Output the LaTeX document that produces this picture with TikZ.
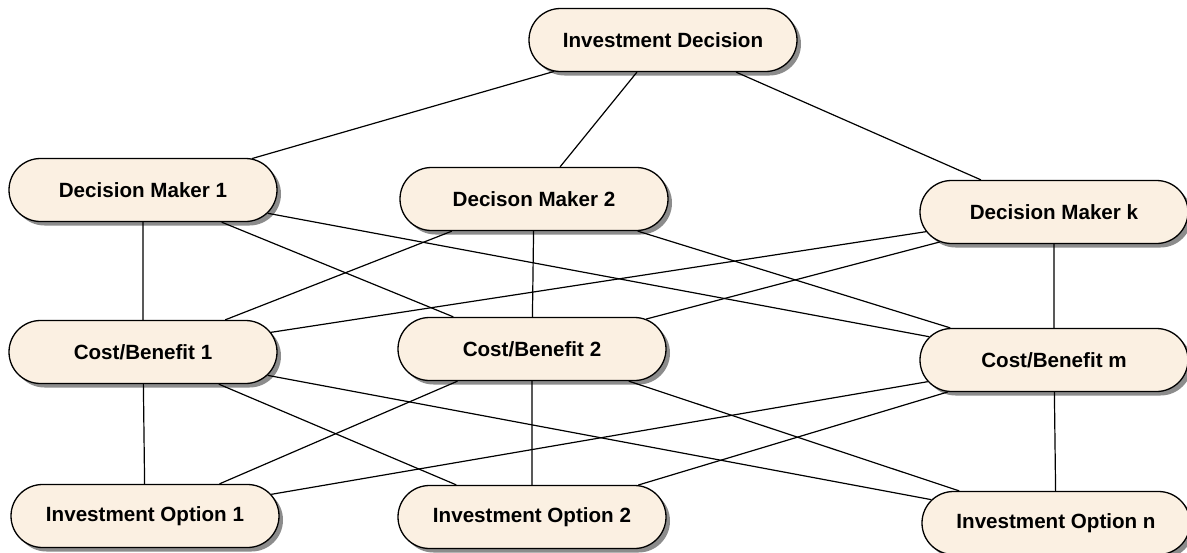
\documentclass[tikz,border=0pt]{standalone}
\usepackage{fontspec}
\setmainfont{Liberation Sans}
\usetikzlibrary{shapes.misc,shadows}
\definecolor{nodefill}{RGB}{251,240,226}
\tikzset{
  entity/.style={rounded rectangle, draw=black, line width=1.3pt, fill=nodefill,
    minimum width=268pt, minimum height=63pt, inner sep=0pt,
    font=\fontsize{20.6}{24}\selectfont\bfseries,
    drop shadow={shadow xshift=4pt, shadow yshift=-4pt, fill=black!45, opacity=1}},
  link/.style={line width=1.2pt, draw=black}
}
\begin{document}
\begin{tikzpicture}[x=1pt,y=1pt]
\useasboundingbox (0,0) rectangle (1187,-552);
\node[entity] (id)  at (663,-40)  {Investment Decision};
\node[entity] (dm1) at (143,-190) {Decision Maker 1};
\node[entity] (dm2) at (534,-199) {Decison Maker 2};
\node[entity] (dmk) at (1054,-212) {Decision Maker k};
\node[entity] (cb1) at (143,-352) {Cost/Benefit 1};
\node[entity] (cb2) at (532,-349) {Cost/Benefit 2};
\node[entity] (cbm) at (1054,-360) {Cost/Benefit m};
\node[entity] (io1) at (145,-516) {Investment Option 1};
\node[entity] (io2) at (532,-517) {Investment Option 2};
\node[entity] (ion) at (1056,-523) {Investment Option n};
\foreach \a/\b in {id/dm1,id/dm2,id/dmk,
  dm1/cb1,dm1/cb2,dm1/cbm,dm2/cb1,dm2/cb2,dm2/cbm,dmk/cb1,dmk/cb2,dmk/cbm,
  cb1/io1,cb1/io2,cb1/ion,cb2/io1,cb2/io2,cb2/ion,cbm/io1,cbm/io2,cbm/ion}
  \draw[link] (\a) -- (\b);
\end{tikzpicture}
\end{document}
